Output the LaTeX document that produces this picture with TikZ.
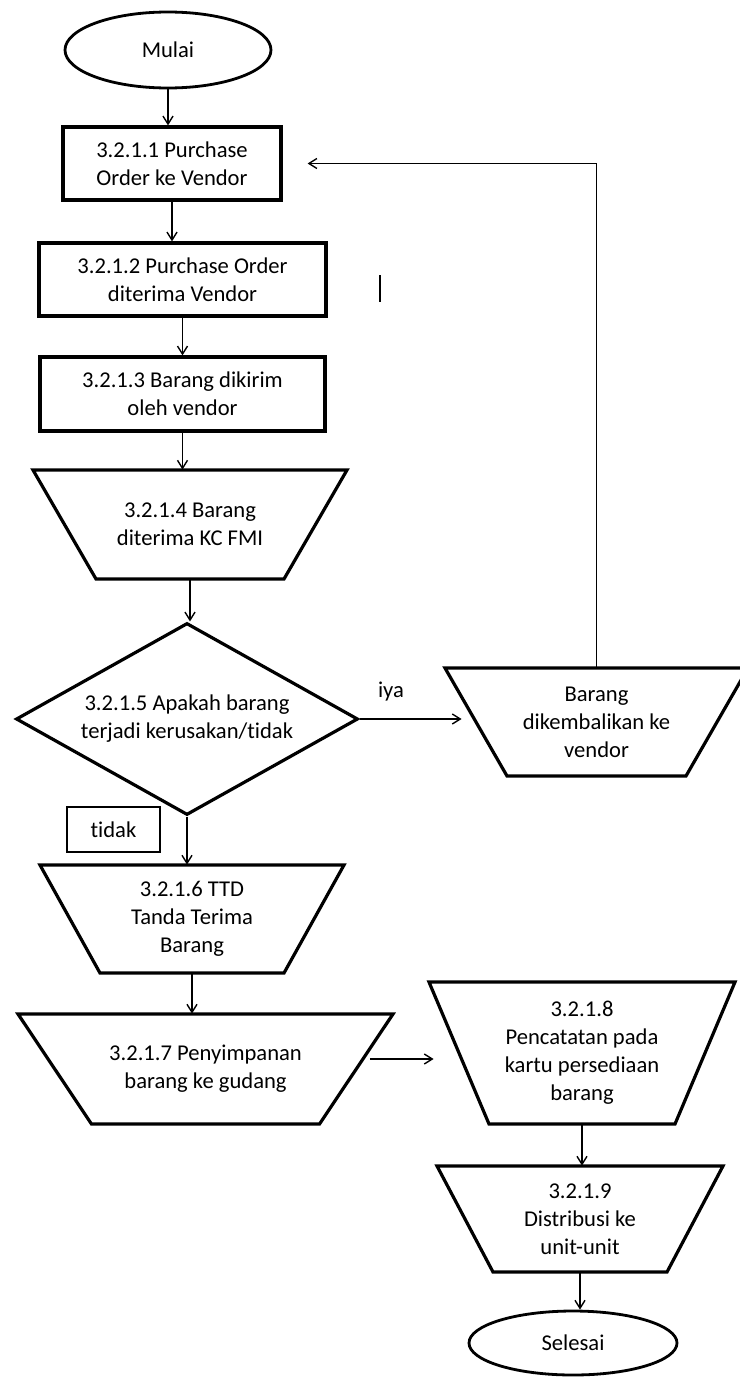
\documentclass[tikz,border=0pt]{standalone}
\usepackage{fontspec}
\setmainfont{Carlito}[Ligatures=NoCommon]
\usepackage{tikz}
\usetikzlibrary{shapes.geometric,arrows.meta}
\tikzset{
  startstop/.style={ellipse, draw, line width=1.4pt, minimum width=103pt, minimum height=38pt, inner sep=0pt},
  process/.style={rectangle, draw, line width=1.6pt, align=center, inner sep=0pt},
  decision/.style={diamond, draw, line width=1.6pt, minimum width=171pt, minimum height=96pt, shape aspect=1.78, align=center, inner sep=0pt},
  arrow/.style={-{Straight Barb[length=4pt,width=5pt]}, line width=0.7pt},
}
% name, x, y, top width, bottom width, height, text
\newcommand{\manualop}[7]{
    \node[align=center, inner sep=0pt, minimum width={#5*0.5pt}, minimum height={#6*0.5pt}] (#1) at (#2,#3) {#7};
    \draw[line width=1.6pt] ({#2-#4/2},{#3-#6/2}) -- ({#2+#4/2},{#3-#6/2}) -- ({#2+#5/2},{#3+#6/2}) -- ({#2-#5/2},{#3+#6/2}) -- cycle;
}
\begin{document}
\begin{tikzpicture}[x=0.5pt, y=-0.5pt, font=\fontsize{11.3}{14}\selectfont]
  \useasboundingbox (0,0) rectangle (739,1386);

  % Main column
  \node[startstop] (mulai) at (168,50) {Mulai};
  \node[process, minimum width=109pt, minimum height=36.5pt] (b1) at (172,163.5) {3.2.1.1 Purchase\\Order ke Vendor};
  \node[process, minimum width=143.5pt, minimum height=36.5pt] (b2) at (182.5,279.5) {3.2.1.2 Purchase Order\\diterima Vendor};
  \node[process, minimum width=142.5pt, minimum height=37pt] (b3) at (182.5,394) {3.2.1.3 Barang dikirim\\oleh vendor};
  \manualop{t4}{190}{524.5}{314}{188}{109}{3.2.1.4 Barang\\diterima KC FMI}
  \node[decision] (d5) at (187,719) {3.2.1.5 Apakah barang\\terjadi kerusakan/tidak};
  \manualop{t6}{192}{919}{304}{184}{108}{3.2.1.6 TTD\\Tanda Terima\\Barang}
  \manualop{t7}{205.5}{1069}{375}{228}{110}{3.2.1.7 Penyimpanan\\barang ke gudang}

  % Right column
  \manualop{kembali}{596.5}{722}{303}{179}{108}{Barang\\dikembalikan ke\\vendor}
  \manualop{t8}{582}{1053}{306}{186}{142}{3.2.1.8\\Pencatatan pada\\kartu persediaan\\barang}
  \manualop{t9}{580}{1219}{286}{174}{106}{3.2.1.9\\Distribusi ke\\unit-unit}
  \node[startstop, minimum width=104pt, minimum height=32pt] (selesai) at (573,1343) {Selesai};

  % Labels
  \node (iya) at (391,692) {iya};
  \node[draw, line width=0.8pt, minimum width=46.5pt, minimum height=22.5pt, inner sep=0pt] (tidak) at (113.5,829.5) {tidak};

  % Arrows down
  \foreach \a/\b in {mulai/b1, b1/b2, b2/b3, b3/t4, t4/d5, d5/t6, t6/t7, t8/t9, t9/selesai}
    \draw[arrow] (\a.south) -- (\a.south |- \b.north);

  % Side arrows
  \draw[arrow, shorten >=22.5pt] (d5.east) -- (d5.east -| kembali.west);
  \draw[arrow, shorten >=12.5pt] (kembali.north) |- (b1.east);
  \draw[arrow, shorten >=27.5pt] ([xshift=25pt,yshift=5pt]t7.east) -- ([yshift=5pt]t7.east -| t8.west);

  % Stray mark
  \draw[line width=0.9pt] (380,275) -- (380,302);
\end{tikzpicture}
\end{document}
